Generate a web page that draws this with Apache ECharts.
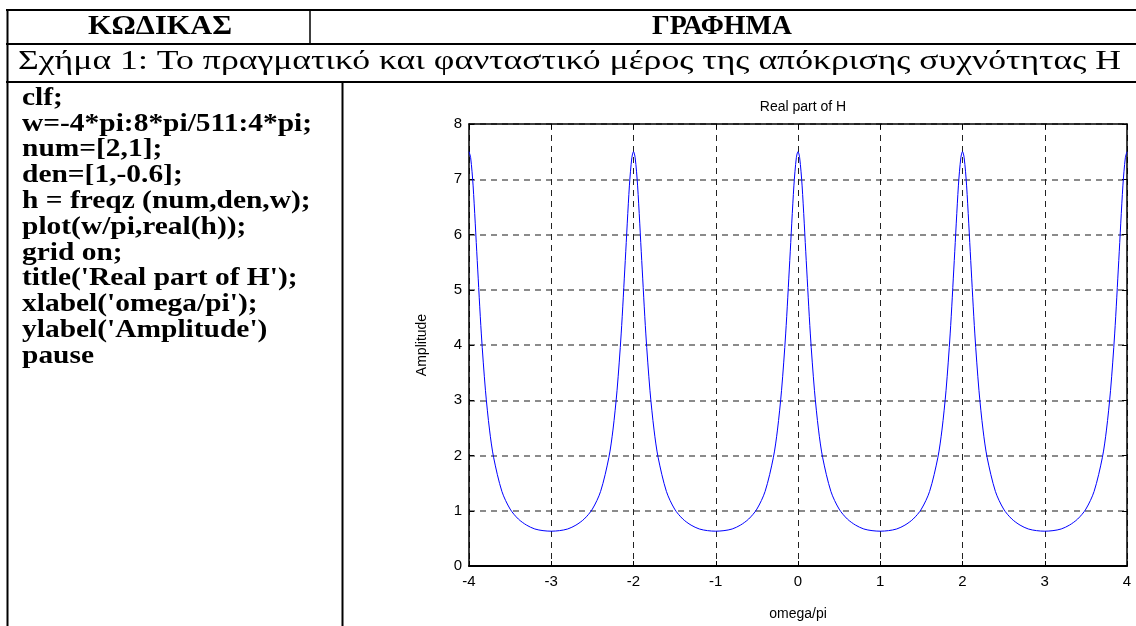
<!DOCTYPE html>
<html>
<head>
<meta charset="utf-8">
<script src="https://cdn.jsdelivr.net/npm/echarts@6/dist/echarts.min.js"></script>
<style>
html,body{margin:0;padding:0;background:#fff;}
#main{width:1136px;height:626px;}
</style>
</head>
<body>
<div id="main"></div>
<script>
// ---- Table texts ----
const headerCode = 'ΚΩΔΙΚΑΣ';
const headerPlot = 'ΓΡΑΦΗΜΑ';
const caption = 'Σχήμα 1: Το πραγματικό και φανταστικό μέρος της απόκρισης συχνότητας H';
const codeLines = [
  'clf;',
  'w=-4*pi:8*pi/511:4*pi;',
  'num=[2,1];',
  'den=[1,-0.6];',
  'h = freqz (num,den,w);',
  'plot(w/pi,real(h));',
  'grid on;',
  "title('Real part of H');",
  "xlabel('omega/pi');",
  "ylabel('Amplitude')",
  'pause'
];

// ---- Chart texts / ticks ----
const chartTitle = 'Real part of H';
const xName = 'omega/pi';
const yName = 'Amplitude';
const xTicks = [-4, -3, -2, -1, 0, 1, 2, 3, 4];
const yTicks = [0, 1, 2, 3, 4, 5, 6, 7, 8];

// ---- Series values ----
const omegaPi = [
  -4, -3.98, -3.95, -3.9, -3.85, -3.8, -3.75, -3.7, -3.6, -3.5, -3.4, -3.3, -3.2, -3.1,
  -3, -2.9, -2.8, -2.7, -2.6, -2.5, -2.4, -2.3, -2.25, -2.2, -2.15, -2.1, -2.05, -2.02,
  -2, -1.98, -1.95, -1.9, -1.85, -1.8, -1.75, -1.7, -1.6, -1.5, -1.4, -1.3, -1.2, -1.1,
  -1, -0.9, -0.8, -0.7, -0.6, -0.5, -0.4, -0.3, -0.25, -0.2, -0.15, -0.1, -0.05, -0.02,
  0, 0.02, 0.05, 0.1, 0.15, 0.2, 0.25, 0.3, 0.4, 0.5, 0.6, 0.7, 0.8, 0.9,
  1, 1.1, 1.2, 1.3, 1.4, 1.5, 1.6, 1.7, 1.75, 1.8, 1.85, 1.9, 1.95, 1.98,
  2, 2.02, 2.05, 2.1, 2.15, 2.2, 2.25, 2.3, 2.4, 2.5, 2.6, 2.7, 2.8, 2.9,
  3, 3.1, 3.2, 3.3, 3.4, 3.5, 3.6, 3.7, 3.75, 3.8, 3.85, 3.9, 3.95, 3.98,
  4
];
const realH = [
  7.5, 7.39, 6.88, 5.53, 4.2, 3.18, 2.46, 1.96, 1.35, 1.03, 0.85, 0.74, 0.67, 0.64,
  0.63, 0.64, 0.67, 0.74, 0.85, 1.03, 1.35, 1.96, 2.46, 3.18, 4.2, 5.53, 6.88, 7.39,
  7.5, 7.39, 6.88, 5.53, 4.2, 3.18, 2.46, 1.96, 1.35, 1.03, 0.85, 0.74, 0.67, 0.64,
  0.63, 0.64, 0.67, 0.74, 0.85, 1.03, 1.35, 1.96, 2.46, 3.18, 4.2, 5.53, 6.88, 7.39,
  7.5, 7.39, 6.88, 5.53, 4.2, 3.18, 2.46, 1.96, 1.35, 1.03, 0.85, 0.74, 0.67, 0.64,
  0.63, 0.64, 0.67, 0.74, 0.85, 1.03, 1.35, 1.96, 2.46, 3.18, 4.2, 5.53, 6.88, 7.39,
  7.5, 7.39, 6.88, 5.53, 4.2, 3.18, 2.46, 1.96, 1.35, 1.03, 0.85, 0.74, 0.67, 0.64,
  0.63, 0.64, 0.67, 0.74, 0.85, 1.03, 1.35, 1.96, 2.46, 3.18, 4.2, 5.53, 6.88, 7.39,
  7.5
];

const seriesData = omegaPi.map((x, i) => [x, realH[i]]);

const SERIF = '"Liberation Serif", "Times New Roman", serif';
const SANS = '"Liberation Sans", Arial, sans-serif';

// measure helper: horizontal stretch factor to reach a target width
const ctx = document.createElement('canvas').getContext('2d');
function stretch(text, font, target) {
  ctx.font = font;
  return target / ctx.measureText(text).width;
}

const graphics = [];
function hline(x1, x2, y, w) {
  graphics.push({type: 'line', silent: true, shape: {x1, y1: y, x2, y2: y}, style: {stroke: '#000', lineWidth: w}});
}
function vline(x, y1, y2, w) {
  graphics.push({type: 'line', silent: true, shape: {x1: x, y1, x2: x, y2}, style: {stroke: '#000', lineWidth: w}});
}
function stext(text, x, y, font, sx, align) {
  graphics.push({
    type: 'text', silent: true, x: x, y: y, scaleX: sx, scaleY: 1,
    style: {text: text, x: 0, y: 0, textAlign: align, textVerticalAlign: 'middle', font: font, fill: '#000'}
  });
}

hline(6, 1136, 10, 2);
hline(6, 1136, 44, 2);
hline(6, 1136, 82, 2);
vline(7.5, 9, 626, 2);
vline(310, 10, 44, 1.5);
vline(342.5, 82, 626, 2);

const headFont = 'bold 27px ' + SERIF;
stext(headerCode, 160, 27, headFont, stretch(headerCode, headFont, 144), 'center');
stext(headerPlot, 722, 27, headFont, stretch(headerPlot, headFont, 140), 'center');

const capFont = '28px ' + SERIF;
stext(caption, 18, 62, capFont, stretch(caption, capFont, 1103), 'left');

const codeFont = 'bold 26px ' + SERIF;
const codeSx = stretch(codeLines[1], codeFont, 290);
codeLines.forEach((t, i) => {
  stext(t, 22, 98 + i * 25.8, codeFont, codeSx, 'left');
});

const chart = echarts.init(document.getElementById('main'), null, {renderer: 'canvas'});
const gridL = 469, gridT = 124, gridW = 658, gridH = 447;
chart.setOption({
  animation: false,
  backgroundColor: '#fff',
  title: {
    text: chartTitle,
    left: gridL + gridW / 2,
    top: 95,
    textAlign: 'center',
    textStyle: {fontFamily: SANS, fontSize: 14, fontWeight: 'normal', color: '#000'}
  },
  grid: {left: gridL, top: gridT, width: gridW, height: gridH, show: false},
  xAxis: [{
    type: 'value', min: xTicks[0], max: xTicks[xTicks.length - 1], interval: 1,
    name: xName, nameLocation: 'middle', nameGap: 41,
    nameTextStyle: {fontFamily: SANS, fontSize: 14, color: '#000'},
    axisLine: {show: true, onZero: false, lineStyle: {color: '#000', width: 2}},
    axisTick: {show: true, inside: true, length: 5, lineStyle: {color: '#000'}},
    axisLabel: {fontFamily: SANS, fontSize: 15, color: '#000', margin: 8},
    splitLine: {show: true, lineStyle: {color: '#222', type: [6, 5], width: 1}}
  }, {
    type: 'value', position: 'top', min: xTicks[0], max: xTicks[xTicks.length - 1], interval: 1,
    axisLine: {show: true, onZero: false, lineStyle: {color: '#000', width: 1.5}},
    axisTick: {show: true, inside: true, length: 5, lineStyle: {color: '#000'}},
    axisLabel: {show: false}, splitLine: {show: false}
  }],
  yAxis: [{
    type: 'value', min: yTicks[0], max: yTicks[yTicks.length - 1], interval: 1,
    name: yName, nameLocation: 'middle', nameGap: 40, nameRotate: 90,
    nameTextStyle: {fontFamily: SANS, fontSize: 14, color: '#000'},
    axisLine: {show: true, onZero: false, lineStyle: {color: '#000', width: 1.5}},
    axisTick: {show: true, inside: true, length: 5, lineStyle: {color: '#000'}},
    axisLabel: {fontFamily: SANS, fontSize: 15, color: '#000', margin: 7},
    splitLine: {show: true, lineStyle: {color: '#666', type: [6, 5], width: 1.5}}
  }, {
    type: 'value', position: 'right', min: yTicks[0], max: yTicks[yTicks.length - 1], interval: 1,
    axisLine: {show: true, onZero: false, lineStyle: {color: '#000', width: 1.5}},
    axisTick: {show: true, inside: true, length: 5, lineStyle: {color: '#000'}},
    axisLabel: {show: false}, splitLine: {show: false}
  }],
  series: [{
    type: 'line',
    data: seriesData,
    xAxisIndex: 0, yAxisIndex: 0,
    showSymbol: false,
    smooth: 0.3,
    lineStyle: {color: '#0000ff', width: 1},
    itemStyle: {color: '#0000ff'},
    z: 5
  }],
  graphic: graphics
});
</script>
</body>
</html>
